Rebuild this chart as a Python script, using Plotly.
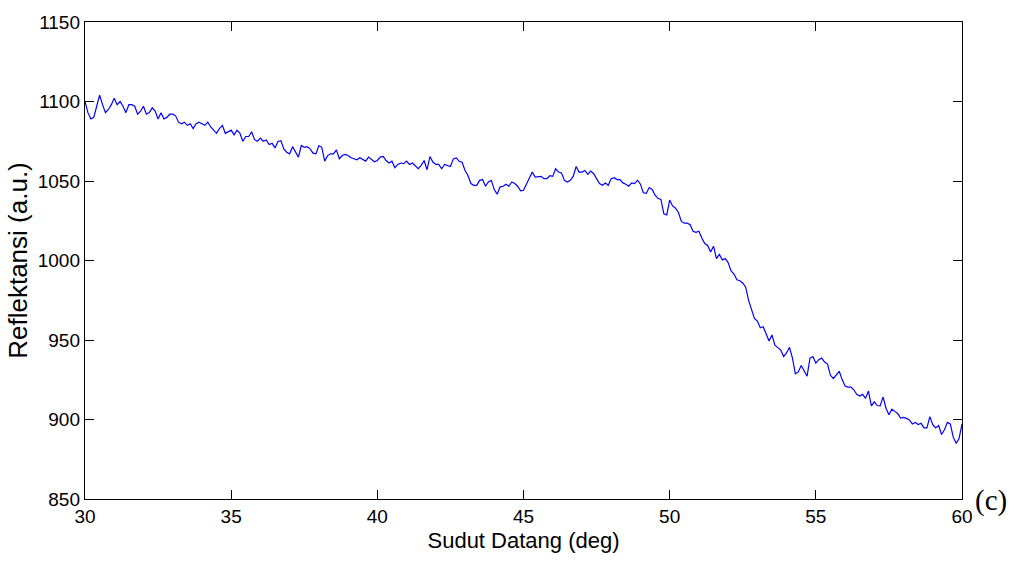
import numpy as np
import plotly.graph_objects as go

# Incidence angle grid (deg), 0.1 deg step from 30 to 60
angle_start = 30.0
angle_step = 0.1

# Reflectance (a.u.) at each angle step
reflectance = [
    1100, 1093, 1089, 1090, 1097, 1104, 1098, 1093, 1095, 1098,
    1102, 1098, 1100, 1097, 1093, 1098, 1098, 1097, 1092, 1094,
    1097, 1092, 1093, 1096, 1094, 1089, 1093, 1089, 1090, 1092,
    1092, 1091, 1087, 1086, 1087, 1085, 1086, 1083, 1086, 1087,
    1086, 1085, 1087, 1084, 1082, 1080, 1083, 1085, 1080, 1081,
    1082, 1079, 1082, 1080, 1075, 1078, 1078, 1081, 1076, 1075,
    1077, 1075, 1075.8, 1072.9, 1073.7, 1070.8, 1074.9, 1075.4, 1070.2, 1068.1,
    1067.1, 1071.6, 1068.1, 1065.0, 1072.3, 1071.2, 1071.6, 1070.2, 1067.5, 1067.1,
    1072.3, 1071.2, 1062.5, 1066.0, 1067.1, 1067.1, 1069.6, 1064.0, 1066.0, 1066.7,
    1066.0, 1064.6, 1064.0, 1063.3, 1064.6, 1063.3, 1062.5, 1065.0, 1063.8, 1062.1,
    1062.9, 1065.0, 1065.4, 1062.9, 1061.3, 1062.5, 1058.4, 1060.4, 1061.3, 1060.9,
    1062.5, 1060.4, 1061.3, 1059.2, 1057.8, 1059.8, 1062.9, 1057.1, 1065.4, 1061.9,
    1060.4, 1060.4, 1057.7, 1060.4, 1059.8, 1059.1, 1063.9, 1064.5, 1062.4, 1061.8,
    1056.6, 1053.5, 1048.4, 1047.3, 1047.3, 1050.4, 1050.9, 1046.7, 1049.4, 1050.4,
    1044.6, 1041.7, 1046.3, 1046.7, 1048.0, 1046.7, 1049.4, 1048.4, 1046.7, 1043.8,
    1044.2, 1048.0, 1051.5, 1055.6, 1052.5, 1052.5, 1052.9, 1051.5, 1051.5, 1053.3,
    1052.9, 1057.7, 1055.6, 1055.0, 1050.4, 1049.4, 1050.4, 1052.9, 1059.1, 1055.6,
    1055.6, 1056.6, 1054.2, 1056.2, 1054.6, 1051.5, 1048.4, 1047.3, 1048.8, 1047.3,
    1051.5, 1052.1, 1050.9, 1050.9, 1048.8, 1048.0, 1046.7, 1048.8, 1048.4, 1050.5,
    1048.0, 1042.6, 1042.2, 1045.9, 1044.7, 1041.1, 1039.1, 1038.4, 1029.3, 1028.7,
    1038.0, 1034.3, 1032.9, 1030.2, 1024.6, 1023.5, 1023.5, 1022.5, 1018.4, 1017.7,
    1018.4, 1014.2, 1010.7, 1009.5, 1005.3, 1009.0, 1001.2, 1003.9, 1000.4, 1001.2,
    998.7, 993.5, 991.5, 987.9, 987.3, 985.9, 983.2, 974.9, 969.7, 963.5,
    961.9, 957.7, 958.3, 953.2, 949.4, 953.2, 946.8, 945.2, 943.7, 939.6,
    942.0, 945.4, 938.6, 928.7, 929.9, 934.0, 930.7, 927.2, 938.6, 939.6,
    935.5, 937.6, 938.6, 936.1, 934.9, 927.8, 925.8, 928.3, 930.3, 925.1,
    921.0, 920.4, 920.4, 918.7, 915.8, 914.8, 915.8, 913.3, 917.9, 908.6,
    911.1, 908.8, 908.6, 914.2, 907.1, 903.0, 906.5, 905.1, 903.8, 900.9,
    901.3, 900.7, 899.7, 897.2, 898.2, 896.8, 897.6, 894.7, 894.7, 901.8,
    896.8, 894.7, 896.2, 890.6, 893.5, 898.2, 897.2, 888.9, 885.0, 888.0,
    897.2,
]

angles = angle_start + angle_step * np.arange(len(reflectance))

x_ticks = [30, 35, 40, 45, 50, 55, 60]
y_ticks = [850, 900, 950, 1000, 1050, 1100, 1150]

SANS = "Liberation Sans, Arial, sans-serif"

fig = go.Figure()
fig.add_trace(go.Scatter(
    x=angles, y=reflectance, mode="lines",
    line=dict(color="rgb(0,0,255)", width=1.2),
    showlegend=False,
))

axis_common = dict(
    showline=True, linecolor="black", linewidth=1.4, mirror="ticks",
    ticks="inside", ticklen=9, tickwidth=1, tickcolor="black",
    showgrid=False, zeroline=False,
    tickfont=dict(family=SANS, size=19, color="black"),
)

fig.update_xaxes(
    range=[30, 60], tickvals=x_ticks, ticktext=[str(v) for v in x_ticks],
    title=dict(text="Sudut Datang (deg)", standoff=6,
               font=dict(family=SANS, size=22, color="black")),
    **axis_common,
)
fig.update_yaxes(
    range=[850, 1150], tickvals=y_ticks, ticktext=[str(v) for v in y_ticks],
    title=dict(text="Reflektansi (a.u.)", standoff=2,
               font=dict(family=SANS, size=26, color="black")),
    **axis_common,
)

fig.add_annotation(
    text="(c)", xref="paper", yref="paper", x=1.0, y=0.0,
    xanchor="left", yanchor="middle", xshift=11, yshift=-1, showarrow=False,
    font=dict(family="Liberation Serif, Times New Roman, serif", size=29, color="black"),
)

fig.update_layout(
    width=1019, height=561,
    margin=dict(l=85, r=57, t=17, b=62),
    paper_bgcolor="white", plot_bgcolor="white",
)

fig.write_html("out.html")
